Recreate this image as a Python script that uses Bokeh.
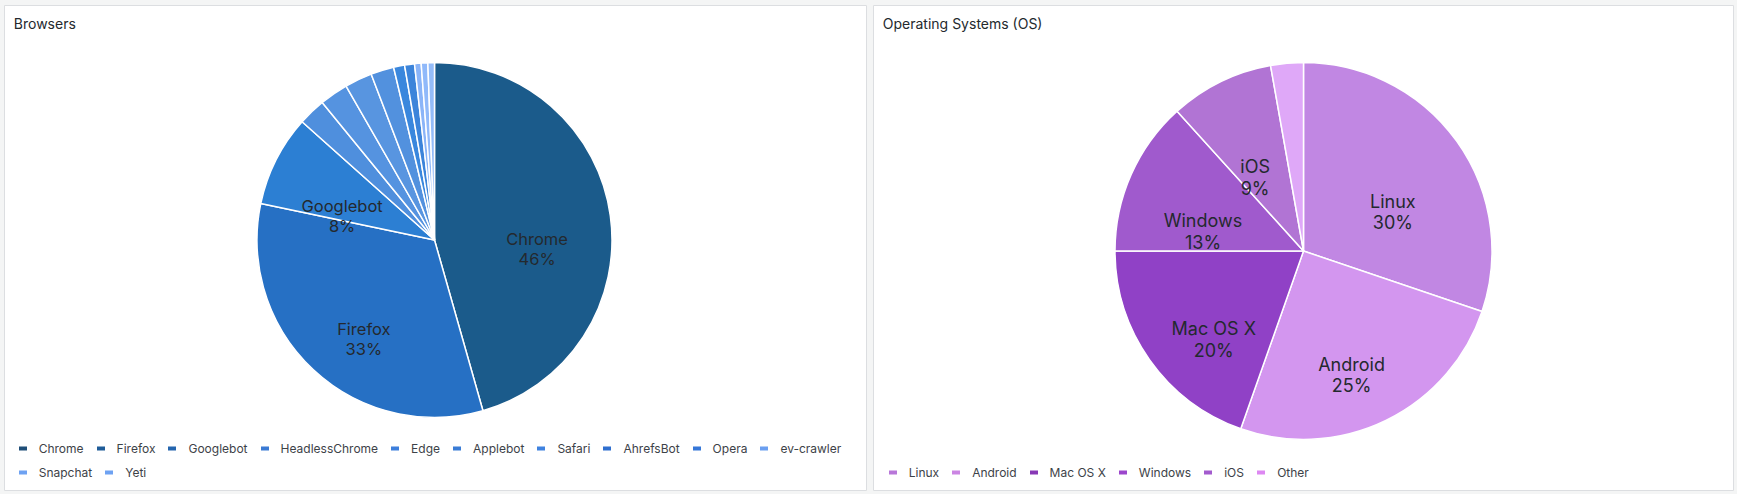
import math
from bokeh.plotting import figure
from bokeh.models import ColumnDataSource, Range1d, Legend, LegendItem, Label
from bokeh.layouts import row
from bokeh.core.properties import value
from bokeh.embed import file_html
from bokeh.resources import INLINE

# ---------------- data ----------------
browser_names = ["Chrome", "Firefox", "Googlebot", "HeadlessChrome", "Edge", "Applebot",
                 "Safari", "AhrefsBot", "Opera", "ev-crawler", "Snapchat", "Yeti"]
browser_share = [45.6, 32.7, 8.3, 2.5, 2.6, 2.5, 2.1, 1.0, 0.9, 0.6, 0.6, 0.6]
browser_colors = ["#1b5b8b", "#2670c4", "#2c7fd3", "#4f8fdd", "#5593e0", "#5895e0",
                  "#5291de", "#3a87dd", "#3c84da", "#8ab4f8", "#90b9fa", "#94bcf9"]
browser_legend_colors = ["#1f4e78", "#1f5c98", "#2465ae", "#3a7ad4", "#3d7fdc", "#3a7cd6",
                         "#3f82df", "#2f6fcf", "#3577d8", "#6b9ff0", "#6ea2f2", "#6ea2f2"]

os_names = ["Linux", "Android", "Mac OS X", "Windows", "iOS", "Other"]
os_share = [30.2, 25.2, 19.6, 13.3, 8.9, 2.8]
os_colors = ["#c187e3", "#d396ef", "#9041c6", "#a05acd", "#b174d4", "#dfa8f8"]
os_legend_colors = ["#b877d9", "#cb85e3", "#8838b5", "#9c46cc", "#a35bce", "#dd88f2"]

TEXT = "#24292e"
LEGEND_TEXT = "#3d4248"
FONT = "Inter"
PAGE_BG = "#f4f5f5"


def panel(width, border_left, border_right, title, names, shares, colors, legend_colors,
          cx, cy, radius, label_fs, legend_rows, legend_x, legend_ys):
    fw = width - border_left - border_right   # frame width (px)
    fh = 485                                  # frame height (px)
    p = figure(width=width, height=494, x_range=Range1d(0, fw), y_range=Range1d(0, fh),
               output_backend="svg", toolbar_location=None,
               min_border_left=border_left, min_border_right=border_right,
               min_border_top=5, min_border_bottom=4,
               x_axis_location=None, y_axis_location=None)
    p.grid.visible = False
    p.background_fill_color = "white"
    p.border_fill_color = PAGE_BG
    p.outline_line_color = "#dcdee1"
    p.outline_line_width = 1

    total = sum(shares)
    starts, ends, cum = [], [], 0.0
    for s in shares:
        starts.append(math.pi / 2 - 2 * math.pi * cum / total)
        cum += s
        ends.append(math.pi / 2 - 2 * math.pi * cum / total)
    src = ColumnDataSource(dict(name=names, start=starts, end=ends, color=colors))
    p.wedge(x=cx, y=cy, radius=radius, start_angle="start", end_angle="end",
            direction="clock", fill_color="color", line_color="white", line_width=1.5,
            source=src)

    # slice labels (name + percent)
    lr = radius * 7 / 12
    lx, ly, lt = [], [], []
    cum = 0.0
    for n, s in zip(names, shares):
        pct = s / total * 100
        mid = 2 * math.pi * (cum + s / 2) / total
        cum += s
        if pct < 5:
            continue
        x = cx + lr * math.sin(mid)
        y = cy + lr * math.cos(mid)
        lx += [x, x]
        ly += [y - 0.8 * label_fs, y - 2.0 * label_fs]
        lt += [n, f"{round(pct)}%"]
    lsrc = ColumnDataSource(dict(x=lx, y=ly, text=lt))
    p.text(x="x", y="y", text="text", source=lsrc, text_align="center",
           text_baseline="middle", text_font=value(FONT),
           text_font_size=f"{label_fs}px", text_color=TEXT)

    p.add_layout(Label(x=9.3, y=fh - 18, text=title, text_font=FONT,
                       text_font_size="14px", text_color=TEXT, text_baseline="middle"))

    # legend (proxy line renderers that draw nothing in the plot)
    items = []
    for n, c in zip(names, legend_colors):
        r = p.line(x=[float("nan")], y=[float("nan")], line_color=c, line_width=4,
                   line_cap="round")
        items.append(LegendItem(label=n, renderers=[r]))
    idx = 0
    for cnt, yc in zip(legend_rows, legend_ys):
        lg = Legend(items=items[idx:idx + cnt], orientation="horizontal",
                    location=(legend_x, yc - 7), glyph_width=8, glyph_height=14,
                    label_height=14, label_standoff=12, spacing=13, padding=0, margin=0,
                    border_line_alpha=0, background_fill_alpha=0,
                    label_text_font=FONT, label_text_font_size="12px",
                    label_text_color=LEGEND_TEXT)
        p.add_layout(lg)
        idx += cnt
    return p


p1 = panel(869, 4, 3, "Browsers", browser_names, browser_share, browser_colors,
           browser_legend_colors, 430, 250.5, 177.5, 16.5, [10, 2], 14.7, [41.5, 17.3])
p2 = panel(868, 4, 4, "Operating Systems (OS)", os_names, os_share, os_colors,
           os_legend_colors, 430, 239.5, 188.5, 18, [6], 15.7, [17.3])

layout = row(p1, p2, spacing=0, styles={"background-color": PAGE_BG})

open("out.html", "w").write(file_html(layout, INLINE))
